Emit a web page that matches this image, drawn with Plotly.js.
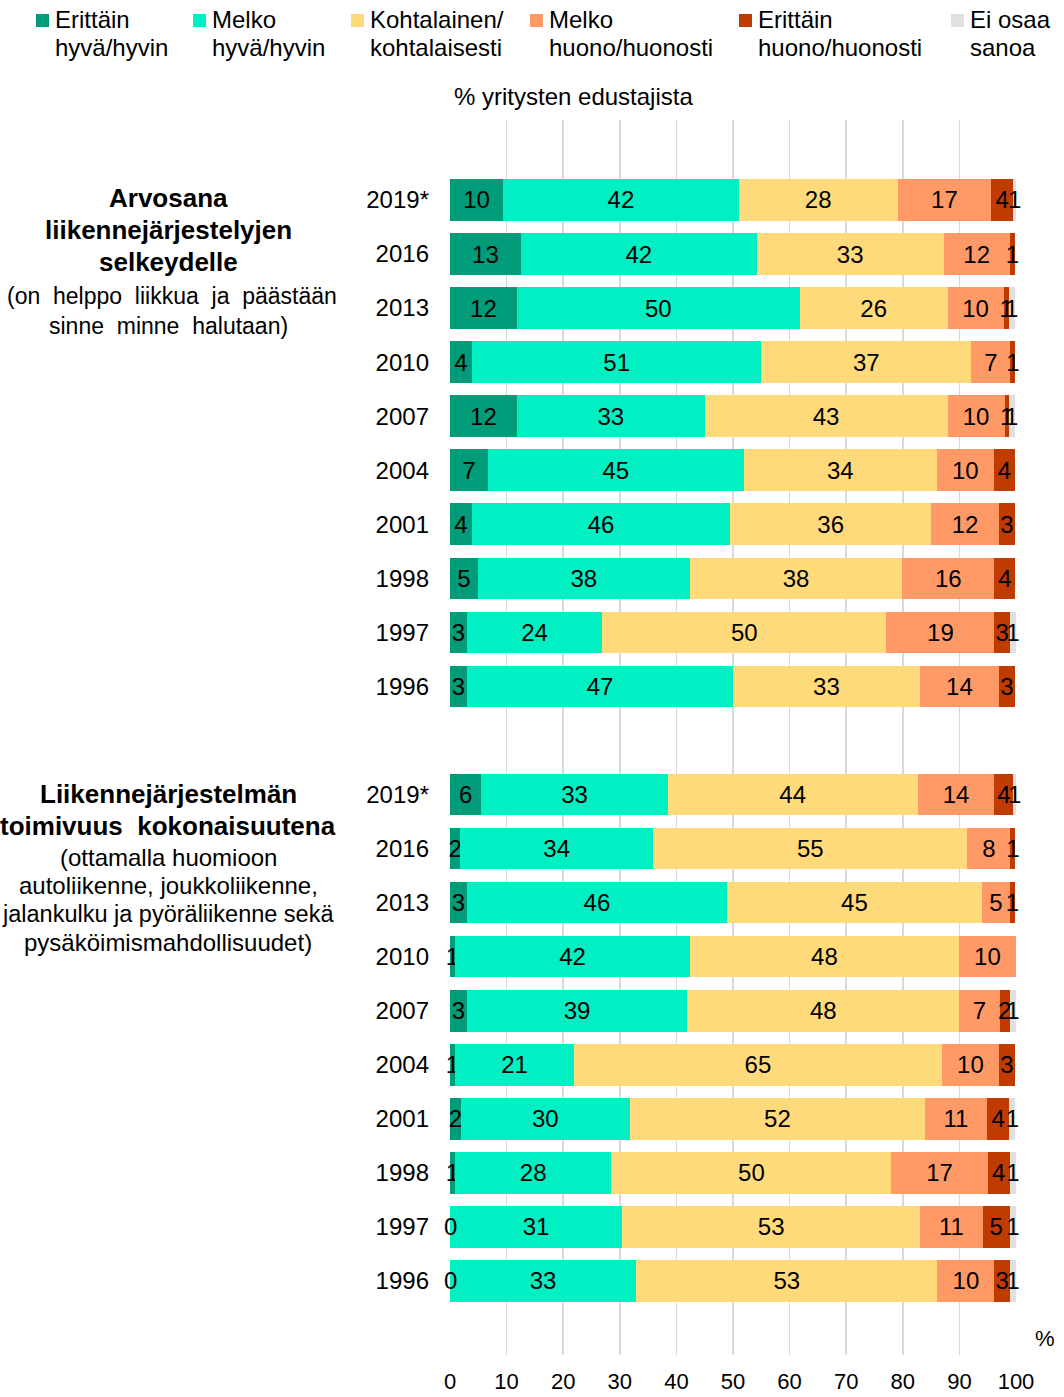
<!DOCTYPE html>
<html>
<head>
<meta charset="utf-8">
<script src="https://cdn.plot.ly/plotly-3.0.1.min.js"></script>
<style>html,body{margin:0;padding:0;background:#fff;}#chart{width:1064px;height:1397px;}</style>
</head>
<body>
<div id="chart"></div>
<script>
// ---- Data ----
const years = ["2019*","2016","2013","2010","2007","2004","2001","1998","1997","1996"];
const seriesLine1 = ["Erittäin","Melko","Kohtalainen/","Melko","Erittäin","Ei osaa"];
const seriesLine2 = ["hyvä/hyvin","hyvä/hyvin","kohtalaisesti","huono/huonosti","huono/huonosti","sanoa"];
const colors = ["#009B79","#00F0C4","#FFDA7A","#FF9966","#BF3B00","#E0E0E0"];

// Group A: Arvosana liikennejärjestelyjen selkeydelle (bar lengths, %)
const a_veryGood = [9.4,12.5,11.8,3.9,11.8,6.7,3.9,4.9,3.0,3.0];
const a_good     = [41.6,41.7,50.0,51.1,33.2,45.2,45.6,37.5,23.9,47.0];
const a_medium   = [28.1,33.0,26.1,37.1,42.9,34.1,35.5,37.5,50.2,33.0];
const a_poor     = [16.5,11.7,9.9,6.9,10.1,10.1,12.0,16.3,19.1,14.0];
const a_veryPoor = [3.9,0.9,0.9,0.9,0.7,3.7,2.8,3.7,2.7,2.8];
const a_dontKnow = [0.5,0,1.1,0,1.1,0,0,0,1.1,0];
// Group A: printed labels
const a_veryGoodLbl = [10,13,12,4,12,7,4,5,3,3];
const a_goodLbl     = [42,42,50,51,33,45,46,38,24,47];
const a_mediumLbl   = [28,33,26,37,43,34,36,38,50,33];
const a_poorLbl     = [17,12,10,7,10,10,12,16,19,14];
const a_veryPoorLbl = [4,1,1,1,1,4,3,4,3,3];
const a_dontKnowLbl = [1,null,1,null,1,null,null,null,1,null];

// Group B: Liikennejärjestelmän toimivuus kokonaisuutena
const b_veryGood = [5.5,1.8,3.0,0.9,3.0,0.9,1.9,0.9,0,0];
const b_good     = [33.0,34.1,45.9,41.5,38.9,21.0,29.9,27.6,30.4,32.9];
const b_medium   = [44.1,55.5,45.1,47.5,48.1,65.0,52.1,49.5,52.7,53.2];
const b_poor     = [13.6,7.6,4.9,10.1,7.1,10.1,11.0,17.0,11.0,10.1];
const b_veryPoor = [3.3,0.9,0.9,0,1.8,2.8,3.9,3.9,4.8,2.7];
const b_dontKnow = [0.5,0,0,0,1.1,0,1.1,1.1,1.1,1.1];
const b_veryGoodLbl = [6,2,3,1,3,1,2,1,0,0];
const b_goodLbl     = [33,34,46,42,39,21,30,28,31,33];
const b_mediumLbl   = [44,55,45,48,48,65,52,50,53,53];
const b_poorLbl     = [14,8,5,10,7,10,11,17,11,10];
const b_veryPoorLbl = [4,1,1,null,2,3,4,4,5,3];
const b_dontKnowLbl = [1,null,null,null,1,null,1,1,1,1];

const xTicks = [0,10,20,30,40,50,60,70,80,90,100];

// ---- Build ----
const FONT = "Liberation Sans, Arial, sans-serif";
const W = 1064, H = 1397, ML = 450, MR = 48, MT = 120, MB = 42;
const PW = W - ML - MR, PH = H - MT - MB;
const px = v => (v - ML) / PW;
const py = v => 1 - (v - MT) / PH;

const posA = years.map((_, i) => i);
const posB = years.map((_, i) => i + 11);
const yPos = posA.concat(posB);

const aVals = [a_veryGood,a_good,a_medium,a_poor,a_veryPoor,a_dontKnow];
const bVals = [b_veryGood,b_good,b_medium,b_poor,b_veryPoor,b_dontKnow];
const aLbls = [a_veryGoodLbl,a_goodLbl,a_mediumLbl,a_poorLbl,a_veryPoorLbl,a_dontKnowLbl];
const bLbls = [b_veryGoodLbl,b_goodLbl,b_mediumLbl,b_poorLbl,b_veryPoorLbl,b_dontKnowLbl];

const traces = seriesLine1.map((l1, s) => ({
  type: "bar",
  orientation: "h",
  name: l1 + " " + seriesLine2[s],
  y: yPos,
  x: aVals[s].concat(bVals[s]),
  text: aLbls[s].concat(bLbls[s]).map(v => v === null ? "" : String(v)),
  textposition: "inside",
  insidetextanchor: "middle",
  textangle: 0,
  insidetextfont: {family: FONT, size: 24, color: "#000"},
  cliponaxis: false,
  marker: {color: colors[s], line: {width: 0}},
  width: 0.77,
  showlegend: false,
  hoverinfo: "x+name"
}));

const ann = [];
const shapes = [];
function addText(text, x, y, size, bold, anchor) {
  ann.push({xref: "paper", yref: "paper", x: px(x), y: py(y), text: bold ? "<b>" + text + "</b>" : text,
    showarrow: false, xanchor: anchor || "center", yanchor: "middle",
    font: {family: FONT, size: size, color: "#000"}});
}

// Zero-length bars still carry a printed label at their position
seriesLine1.forEach((_, s) => {
  const vals = aVals[s].concat(bVals[s]);
  const lbls = aLbls[s].concat(bLbls[s]);
  vals.forEach((v, i) => {
    if (v === 0 && lbls[i] !== null) {
      let base = 0;
      for (let k = 0; k < s; k++) base += aVals[k].concat(bVals[k])[i];
      ann.push({xref: "x", yref: "y", x: base, y: yPos[i], text: String(lbls[i]), showarrow: false,
        xanchor: "center", yanchor: "middle", font: {family: FONT, size: 24, color: "#000"}});
    }
  });
});

// Legend (drawn by hand to match the reference layout)
const legMarkerLeft = [36, 193, 351, 530, 739, 951];
seriesLine1.forEach((l1, s) => {
  const x0 = legMarkerLeft[s];
  shapes.push({type: "rect", xref: "paper", yref: "paper", x0: px(x0), x1: px(x0 + 13),
    y0: py(27), y1: py(14), fillcolor: colors[s], line: {width: 0}});
  addText(l1, x0 + 17, 20, 24, false, "left");
  addText(seriesLine2[s], x0 + 17, 48, 24, false, "left");
});

addText("% yritysten edustajista", 452, 97, 24, false, "left");
addText("%", 1045, 1338, 22, false, "center");
addText("Arvosana", 168, 198, 26, true);
addText("liikennejärjestelyjen", 168, 230, 26, true);
addText("selkeydelle", 168, 262, 26, true);
addText("(on\u00A0 helppo\u00A0 liikkua\u00A0 ja\u00A0 päästään", 172, 296, 23, false);
addText("sinne\u00A0 minne\u00A0 halutaan)", 168, 326, 23, false);
addText("Liikennejärjestelmän", 168, 794, 26, true);
addText("toimivuus\u00A0 kokonaisuutena", 168, 826, 26, true);
addText("(ottamalla huomioon", 168, 857, 24, false);
addText("autoliikenne, joukkoliikenne,", 168, 885, 24, false);
addText("jalankulku ja pyöräliikenne sekä", 168, 914, 23.5, false);
addText("pysäköimismahdollisuudet)", 168, 942, 24, false);

const layout = {
  width: W, height: H,
  margin: {l: ML, r: MR, t: MT, b: MB, pad: 0},
  paper_bgcolor: "#fff", plot_bgcolor: "#fff",
  font: {family: FONT, size: 24, color: "#000"},
  barmode: "stack",
  bargap: 0,
  showlegend: false,
  xaxis: {
    range: [0, 100], tickvals: xTicks, ticktext: xTicks.map(String),
    showgrid: true, gridcolor: "#D9D9D9", gridwidth: 1.5,
    zeroline: false, showline: false, ticks: "",
    ticklabelstandoff: 11, automargin: false,
    tickfont: {family: FONT, size: 22, color: "#000"},
    fixedrange: true
  },
  yaxis: {
    range: [21.37, -1.48], tickvals: yPos, ticktext: years.concat(years),
    showgrid: false, zeroline: false, showline: false, ticks: "",
    ticklabelstandoff: 20, automargin: false,
    tickfont: {family: FONT, size: 24, color: "#000"},
    fixedrange: true
  },
  uniformtext: {mode: "show", minsize: 24},
  shapes: shapes,
  annotations: ann
};

Plotly.newPlot("chart", traces, layout, {displayModeBar: false, staticPlot: true});
</script>
</body>
</html>
